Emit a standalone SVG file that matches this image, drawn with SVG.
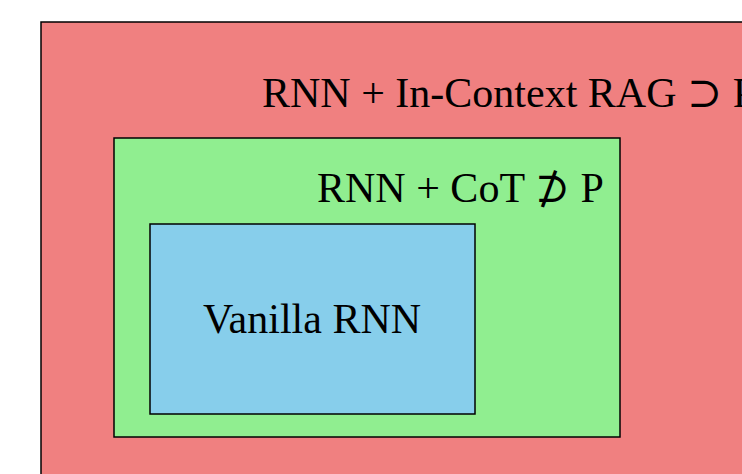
<svg xmlns="http://www.w3.org/2000/svg" width="742" height="474" viewBox="0 0 742 474">
  <style>
    .box { stroke: #000; stroke-width: 1.5; }
    .lbl { font-family: "Liberation Serif", "DejaVu Serif", serif; font-size: 42px; fill: #000; }
  </style>
  <rect x="0" y="0" width="742" height="474" fill="#fff"/>
  <g id="rag">
    <rect class="box" x="41" y="22" width="760" height="520" fill="#F08080"/>
    <text class="lbl" x="262" y="107">RNN + In-Context RAG ⊃ P</text>
  </g>
  <g id="cot">
    <rect class="box" x="114" y="138" width="506" height="299" fill="#90EE90"/>
    <text class="lbl" x="317" y="202">RNN + CoT ⊅ P</text>
  </g>
  <g id="vanilla">
    <rect class="box" x="150" y="224" width="325" height="190" fill="#87CEEB"/>
    <text class="lbl" x="312" y="333" text-anchor="middle">Vanilla RNN</text>
  </g>
  <g id="connectors"/>
</svg>
